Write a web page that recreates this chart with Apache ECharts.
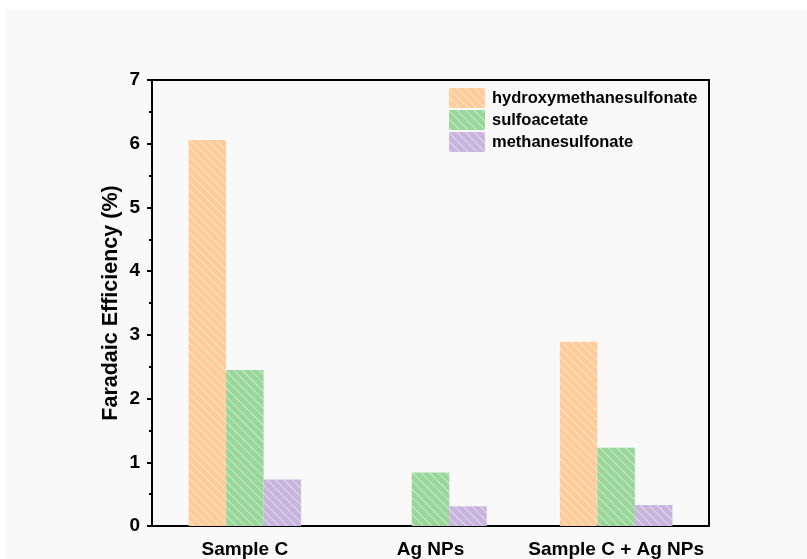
<!DOCTYPE html>
<html><head><meta charset="utf-8">
<style>
html,body{margin:0;padding:0;background:#fff;width:807px;height:559px;overflow:hidden}
#bg{position:absolute;left:5px;top:10px;right:0;bottom:0;background:#f9f9f9}
#c{position:absolute;left:0;top:0;width:807px;height:559px}
</style>
<script src="https://cdn.jsdelivr.net/npm/echarts@6/dist/echarts.min.js"></script>
</head><body>
<div id="bg"></div><div id="c"></div>
<script>
const categories = ['Sample C', 'Ag NPs', 'Sample C + Ag NPs'];
const hydroxymethanesulfonate = [6.06, 0, 2.89];
const sulfoacetate = [2.45, 0.84, 1.23];
const methanesulfonate = [0.73, 0.31, 0.33];
const seriesNames = ['hydroxymethanesulfonate', 'sulfoacetate', 'methanesulfonate'];
const yTicks = [0, 1, 2, 3, 4, 5, 6, 7];

const font = '"Liberation Sans", Arial, sans-serif';
const decal = {symbol:'rect', symbolSize:1, color:'rgba(255,255,255,0.5)', dashArrayX:[1,0], dashArrayY:[1,5], rotation:Math.PI/4};
const colors = ['#ffcc99', '#99d699', '#c8b5dd'];
const chart = echarts.init(document.getElementById('c'));
const mk = (name, data, i) => ({
  name, type:'bar', data, barWidth:37.5, barGap:0, xAxisIndex:0, yAxisIndex:0,
  itemStyle:{color:colors[i], decal:decal}
});
chart.setOption({
  animation:false,
  backgroundColor:'transparent',
  grid:{left:152, top:80, right:98, bottom:31},
  legend:{orient:'vertical', left:449, top:88, itemWidth:36, itemHeight:20, itemGap:2, padding:0,
    icon:'rect',
    textStyle:{fontFamily:font, fontWeight:'bold', fontSize:16.5, color:'#000', padding:[0,0,0,2]},
    data:seriesNames},
  xAxis:[
    {type:'category', data:categories, position:'bottom',
     axisLine:{lineStyle:{color:'#000', width:2}},
     axisTick:{length:5, lineStyle:{color:'#000', width:2}},
     axisLabel:{interval:0, fontFamily:font, fontWeight:'bold', fontSize:19, color:'#000', margin:14}},
    {type:'category', data:categories, position:'bottom',
     axisLine:{show:false},
     axisTick:{alignWithLabel:true, length:5, lineStyle:{color:'#000', width:2}},
     axisLabel:{show:false}},
    {type:'category', data:categories, position:'top',
     axisLine:{lineStyle:{color:'#000', width:2}},
     axisTick:{show:false}, axisLabel:{show:false}}
  ],
  yAxis:[
    {type:'value', min:yTicks[0], max:yTicks[yTicks.length-1], interval:1,
     name:'Faradaic Efficiency (%)', nameLocation:'middle', nameGap:30, nameMoveOverlap:false,
     nameTextStyle:{fontFamily:font, fontWeight:'bold', fontSize:21.5, color:'#000'},
     axisLine:{show:true, lineStyle:{color:'#000', width:2}},
     axisTick:{show:true, length:5, lineStyle:{color:'#000', width:2}},
     minorTick:{show:true, splitNumber:2, length:3, lineStyle:{color:'#000', width:2}},
     splitLine:{show:false},
     axisLabel:{fontFamily:font, fontWeight:'bold', fontSize:19, color:'#000', margin:12}},
    {type:'value', min:0, max:7, position:'right',
     axisLine:{show:true, lineStyle:{color:'#000', width:2}},
     axisTick:{show:false}, axisLabel:{show:false}, splitLine:{show:false}}
  ],
  series:[
    mk(seriesNames[0], hydroxymethanesulfonate, 0),
    mk(seriesNames[1], sulfoacetate, 1),
    mk(seriesNames[2], methanesulfonate, 2)
  ]
});
</script>
</body></html>
